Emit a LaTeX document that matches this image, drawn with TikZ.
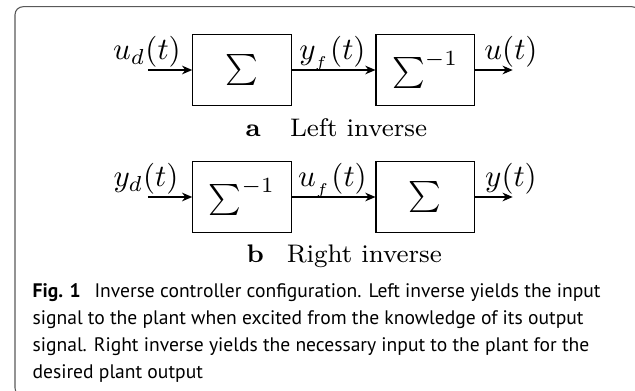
\documentclass[tikz,border=0pt]{standalone}
\usepackage{fontspec}
\newfontfamily\capfont{PT Sans}
\usetikzlibrary{arrows.meta}
\newlength\capwd
\newcommand\capfirst{\textbf{Fig. 1}\hspace{0.7em}Inverse controller configuration. Left inverse yields the input}
\begin{document}
\settowidth\capwd{\capfont\fontsize{6}{8}\selectfont\capfirst}%
\pgfmathsetmacro\capsize{6*183.23/\capwd}%
\pgfmathsetmacro\capskip{8.65}%
\begin{tikzpicture}[x=0.32258pt,y=-0.32258pt,
  blk/.style={draw, line width=0.4pt, minimum width=31.7pt, minimum height=22.9pt, inner sep=0pt},
  sig/.style={anchor=base, inner sep=0pt},
  arr/.style={-{Stealth[length=3.3pt,width=2.8pt]}, line width=0.4pt},
  sub/.style={anchor=base west, inner sep=0pt, font=\fontsize{8.2}{10}\selectfont},
  frame/.style={draw=black!65, line width=0.35pt, rounded corners=2.6pt}]
\useasboundingbox (0,0) rectangle (635,391);
\clip (0,0) rectangle (635,391);
\draw[frame] (15,6.7) rectangle (640,396);
% row 1
\node[blk] (s1) at (242,70) {$\sum$};
\node[blk] (si1) at (425.2,70) {$\sum^{-1}$};
\coordinate (in1) at (148,70);
\coordinate (out1) at (512.7,70);
\draw[arr] (in1) -- (s1);
\draw[arr] (s1) -- (si1);
\draw[arr] (si1) -- (out1);
\node[sig] (lud) at (147,60) {$u_d(t)$};
\node[sig] (lyf) at (332.5,60) {$y_{_f}(t)$};
\node[sig] (lu) at (511,60) {$u(t)$};
\node[sub] (ca) at (245,136.7) {\textbf{a}\hspace{1.15em}Left inverse};
% row 2
\node[blk] (si2) at (242,197) {$\sum^{-1}$};
\node[blk] (s2) at (425.2,197) {$\sum$};
\coordinate (in2) at (148,197);
\coordinate (out2) at (512.7,197);
\draw[arr] (in2) -- (si2);
\draw[arr] (si2) -- (s2);
\draw[arr] (s2) -- (out2);
\node[sig] (lyd) at (146,187) {$y_d(t)$};
\node[sig] (luf) at (332.5,187) {$u_{_f}(t)$};
\node[sig] (ly) at (511,187) {$y(t)$};
\node[sub] (cb) at (246,263) {\textbf{b}\hspace{0.9em}Right inverse};
% caption (base anchor = baseline of the last line)
\node[anchor=base west, inner sep=0pt, align=left, font=\capfont\fontsize{\capsize}{\capskip}\selectfont] (cap) at (32,378.4)
  {\capfirst\\
   signal to the plant when excited from the knowledge of its output\\
   signal. Right inverse yields the necessary input to the plant for the\\
   desired plant output};
\end{tikzpicture}
\end{document}
